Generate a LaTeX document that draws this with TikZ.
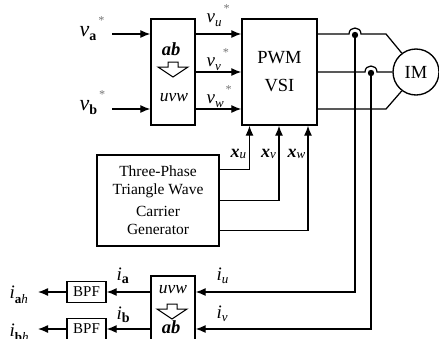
\documentclass[tikz,border=0pt]{standalone}
\usepackage{fontspec}
\setmainfont{Liberation Serif}
\usetikzlibrary{arrows.meta}
\newcommand\sbs[2][4pt]{\raisebox{-#1}{\fontsize{13}{13}\selectfont #2}}
\newcommand\sbb[2][4pt]{\raisebox{-#1}{\fontsize{14}{14}\selectfont\bfseries\upshape #2}}
\newcommand\strsup[1][10pt]{\hspace{1.5pt}\raisebox{#1}{\fontsize{12}{12}\selectfont\color{black!55}*}}
\begin{document}
\begin{tikzpicture}[x=1pt,y=-1pt,line width=1.25pt,
  blk/.style={draw,line width=1.35pt,inner sep=0pt},
  arr/.style={-{Latex[length=10pt,width=8pt]}},
  lab/.style={anchor=base west,inner sep=0pt,font=\fontsize{19}{19}\selectfont\itshape},
  txt/.style={inner sep=0pt,align=center},
  hollow/.style={draw,line width=1pt,fill=white}]
\useasboundingbox (0,0) rectangle (439,338);
\clip (0,0) rectangle (439,338);

% blocks
\node[blk,minimum width=44pt,minimum height=106pt] (c1) at (173,72) {};
\node[blk,minimum width=75pt,minimum height=106pt,align=center,font=\fontsize{18.5}{28}\selectfont] (pwm) at (279.5,72) {PWM\\VSI};
\node[blk,circle,minimum size=46pt,font=\fontsize{18.5}{18.5}\selectfont] (im) at (416,72) {IM};
\node[blk,minimum width=122pt,minimum height=91pt,align=center,font=\fontsize{15.5}{18}\selectfont] (gen) at (158,200.5) {Three-Phase\\Triangle Wave\\[4pt]Carrier\\Generator};
\node[blk,minimum width=44pt,minimum height=100pt] (c2) at (173,326) {};
\node[blk,minimum width=39pt,minimum height=21pt,font=\fontsize{15}{15}\selectfont] (bpf1) at (86.5,292) {BPF};
\node[blk,minimum width=39pt,minimum height=21pt,font=\fontsize{15}{15}\selectfont] (bpf2) at (86.5,329) {BPF};

% contents of converters
\node[txt,font=\fontsize{18.5}{18.5}\selectfont\bfseries\itshape] (ab1) at (171,49) {ab};
\draw[hollow] (168,62)--(178,62)--(178,67)--(188,67)--(173,77)--(158,67)--(168,67)--cycle;
\node[txt,font=\fontsize{17.5}{17.5}\selectfont\itshape] (uvw1) at (174,98) {uvw};
\node[txt,font=\fontsize{17.5}{17.5}\selectfont\itshape] (uvw2) at (173,290) {uvw};
\draw[hollow] (167,304)--(177,304)--(177,309)--(187,309)--(172,319)--(157,309)--(167,309)--cycle;
\node[txt,font=\fontsize{18.5}{18.5}\selectfont\bfseries\itshape] (ab2) at (171,327.5) {ab};

% labels
\node[lab,font=\fontsize{22}{22}\selectfont\itshape] (lva) at (79,36) {v\sbb{a}\strsup[12pt]};
\node[lab,font=\fontsize{22}{22}\selectfont\itshape] (lvb) at (79,110) {v\sbb{b}\strsup[12pt]};
\node[lab] (lvu) at (206,22) {v\sbs{u}\strsup};
\node[lab] (lvv) at (206,66) {v\sbs{v}\strsup};
\node[lab] (lvw) at (206,103) {v\sbs{w}\strsup};
\node[lab,font=\fontsize{18}{18}\selectfont\bfseries\itshape] (lxu) at (230,157) {x\sbs[1pt]{\mdseries u}};
\node[lab,font=\fontsize{18}{18}\selectfont\bfseries\itshape] (lxv) at (260.5,157) {x\sbs[1pt]{\mdseries v}};
\node[lab,font=\fontsize{18}{18}\selectfont\bfseries\itshape] (lxw) at (287,157) {x\sbs[1pt]{\mdseries w}};
\node[lab] (liu) at (216,280) {i\sbs[3pt]{u}};
\node[lab] (liv) at (216,318) {i\sbs[3pt]{v}};
\node[lab] (lia) at (116,280) {i\sbb[3pt]{a}};
\node[lab] (lib) at (116,319) {i\sbb[3pt]{b}};
\node[lab] (liah) at (9,298) {i\sbs[5pt]{\bfseries\upshape a\mdseries\itshape h}};
\node[lab] (libh) at (9,336) {i\sbs[5pt]{\bfseries\upshape b\mdseries\itshape h}};

% inputs
\coordinate (vaS) at (112,34);
\coordinate (vbS) at (112,109);
\draw[arr] (vaS) -- (vaS -| c1.west);
\draw[arr] (vbS) -- (vbS -| c1.west);
\foreach \yy in {34,72,109}
  \draw[arr] (c1.east |- 0,\yy) -- (pwm.west |- 0,\yy);

% motor lines with hops
\coordinate (d1) at (355,35);
\coordinate (d2) at (371,73);
\draw (pwm.east |- 0,34) -- (349,34) .. controls (349,26) and (361,26) .. (361,34) -- (386,34) -- (im.127);
\draw (pwm.east |- 0,72) -- (365,72) .. controls (365,64) and (377,64) .. (377,72) -- (im.west);
\draw (pwm.east |- 0,109) -- (386,109) -- (im.233);
\fill (d1) circle[radius=3.2];
\fill (d2) circle[radius=3.2];

% current feedback
\draw[arr] (d1) |- (c2.east |- 0,292);
\draw[arr] (d2) |- (c2.east |- 0,329);

% carrier signals
\draw[arr] (gen.east |- 0,169.5) -| (pwm.south -| 249.5,0);
\draw[arr] (gen.east |- 0,200.5) -| (pwm.south -| 279,0);
\draw[arr] (gen.east |- 0,230.5) -| (pwm.south -| 308,0);

% outputs to BPF
\coordinate (oah) at (38,292);
\coordinate (obh) at (38,329);
\draw[arr] (c2.west |- 0,292) -- (bpf1.east);
\draw[arr] (c2.west |- 0,329) -- (bpf2.east);
\draw[arr] (bpf1.west) -- (oah);
\draw[arr] (bpf2.west) -- (obh);
\end{tikzpicture}
\end{document}
